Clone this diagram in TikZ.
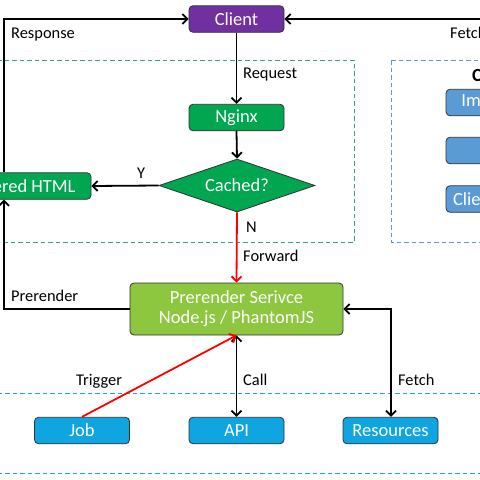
\documentclass[tikz,border=0pt]{standalone}
\usepackage{fontspec}
\setmainfont{Carlito}
\usetikzlibrary{arrows.meta,shapes.geometric}
\definecolor{cpurple}{HTML}{7030A0}
\definecolor{cgreen}{HTML}{00A650}
\definecolor{clgreen}{HTML}{8DC63F}
\definecolor{csky}{HTML}{0EA5E0}
\definecolor{ccdn}{HTML}{5B9BD5}
\definecolor{cdashg}{HTML}{2EAA6E}
\definecolor{cdashb}{HTML}{1AA7DD}
\begin{document}
\begin{tikzpicture}[x=1pt,y=-1pt,
  box/.style={draw=black!80, line width=0.8pt, rounded corners=4pt, text=white,
    font=\fontsize{18.5}{21}\selectfont, inner sep=0pt, minimum width=95pt, minimum height=26.5pt, align=center},
  lbl/.style={font=\fontsize{16.4}{18}\selectfont, text=black, inner sep=0pt, anchor=west,
    text height=11pt, text depth=0pt},
  conn/.style={line width=1.8pt, -{Straight Barb[length=5pt,width=10pt]}},
  bconn/.style={line width=1.8pt, {Straight Barb[length=5pt,width=10pt]}-{Straight Barb[length=5pt,width=10pt]}},
  dashg/.style={draw=cdashg, line width=1pt, dash pattern=on 4.5pt off 3pt},
  dashb/.style={draw=cdashb, line width=1pt, dash pattern=on 4.5pt off 3pt},
  dashc/.style={draw=ccdn, line width=1pt, dash pattern=on 4.5pt off 3pt}]
\useasboundingbox (0,0) rectangle (480,480);
\clip (0,0) rectangle (480,480);
\fill[white] (0,0) rectangle (480,480);

% containers
\draw[dashg] (-10,60) rectangle (354,242);
\draw[dashc] (391,60) rectangle (620,242);
\draw[dashb] (-10,393) -- (490,393);
\draw[dashb] (-10,473) -- (490,473);

% nodes
\node[box, fill=cpurple] (client) at (236.5,19) {Client};
\node[box, fill=cgreen] (nginx) at (236.5,117.5) {Nginx};
\node[diamond, fill=cgreen, draw=black!80, line width=0.8pt, text=white,
  font=\fontsize{18.5}{21}\selectfont, inner sep=0pt, aspect=2.9,
  minimum width=156pt, minimum height=53pt] (cached) at (237,185.5) {Cached?};
\node[box, fill=cgreen, minimum width=152pt] (html) at (15,186) {Rendered HTML};
\node[box, fill=clgreen, minimum width=213pt, minimum height=52pt] (prer) at (236.5,309)
  {Prerender Serivce\\[-1pt]Node.js / PhantomJS};
\node[box, fill=csky] (job) at (82,430.5) {Job};
\node[box, fill=csky] (api) at (236.5,430.5) {API};
\node[box, fill=csky] (res) at (390.5,430.5) {Resources};

% CDN
\node[font=\bfseries\fontsize{18.5}{21}\selectfont, anchor=west, inner sep=0pt] (cdn) at (472,75) {CDN};
\node[box, fill=ccdn] (img) at (493.5,102.5) {\hspace*{-11pt}Images};
\node[box, fill=ccdn] (mid) at (493.5,150.5) {};
\node[box, fill=ccdn] (cli) at (493.5,199) {\hspace*{-19pt}Client JS};

% coordinates
\coordinate (lx) at (4,0);
\coordinate (fx) at (391,0);
\coordinate (rtop) at (520,19);

% connectors
\draw[conn] (lx |- html.north) -- (lx |- client.west) -- (client.west);
\draw[conn] (rtop) -- (client.east);
\draw[conn] (client.south) -- (nginx.north);
\draw[conn] (nginx.south) -- (cached.north);
\draw[conn] (cached.west) -- (html.east);
\draw[conn, red] (cached.south) -- (prer.north);
\draw[conn] (prer.west) -- (lx |- prer.west) -- (lx |- html.south);
\draw[bconn] (prer.east) -- (fx |- prer.east) -- (fx |- res.north);
\draw[bconn] (prer.south) -- (api.north);
\draw[conn, red] (job.north) -- (prer.south);

% labels
\node[lbl] (lresp) at (11,33) {Response};
\node[lbl] (lfetch1) at (450,33) {Fetch};
\node[lbl] (lreq) at (243,73) {Request};
\node[lbl, anchor=center] (ly) at (141,173) {Y};
\node[lbl] (ln) at (246,227) {N};
\node[lbl] (lfwd) at (243,256) {Forward};
\node[lbl] (lpre) at (11,296) {Prerender};
\node[lbl] (ltrig) at (76,380) {Trigger};
\node[lbl] (lcall) at (243,380) {Call};
\node[lbl] (lfetch2) at (398,380) {Fetch};
\end{tikzpicture}
\end{document}
